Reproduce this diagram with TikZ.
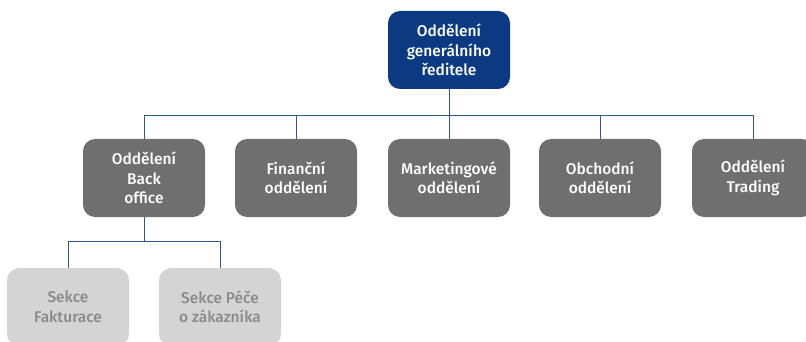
\documentclass[tikz,border=0pt]{standalone}
\usepackage{fontspec}
\setmainfont{Fira Sans Medium}
\definecolor{topblue}{HTML}{0B3A82}
\definecolor{midgray}{HTML}{6F6F6F}
\definecolor{lightgray}{HTML}{D4D4D4}
\definecolor{lighttext}{HTML}{8A8A8A}
\definecolor{linkblue}{HTML}{2F5597}
\tikzset{
  box/.style={rounded corners=12pt, minimum width=122pt, minimum height=78pt, align=center, inner sep=0pt,
    font=\fontsize{15.5}{19.5}\selectfont},
  topbox/.style={box, fill=topblue, text=white},
  midbox/.style={box, fill=midgray, text=white},
  lowbox/.style={box, fill=lightgray, text=lighttext},
  link/.style={draw=linkblue, line width=1pt}
}
\begin{document}
\begin{tikzpicture}[x=1pt,y=-1pt]
\useasboundingbox (0,0) rectangle (806,342);
\node[topbox] (top) at (449,50) {Oddělení\\generálního\\ředitele};
\node[midbox] (back) at (144,178) {Oddělení\\Back\\office};
\node[midbox] (fin) at (296,178) {Finanční\\oddělení};
\node[midbox] (mkt) at (449,178) {Marketingové\\oddělení};
\node[midbox] (obch) at (600,178) {Obchodní\\oddělení};
\node[midbox] (trad) at (753,178) {Oddělení\\Trading};
\node[lowbox] (fakt) at (68,307) {Sekce\\Fakturace};
\node[lowbox] (pece) at (220,307) {Sekce Péče\\o zákazníka};
\coordinate (hy) at (0,116);
\coordinate (ly) at (0,241);
\draw[link] (top.south) -- (top.south |- hy);
\draw[link] (back.north) -- (back.north |- hy) -- (trad.north |- hy) -- (trad.north);
\foreach \n in {fin,mkt,obch} \draw[link] (\n.north) -- (\n.north |- hy);
\draw[link] (back.south) -- (back.south |- ly);
\draw[link] (fakt.north) -- (fakt.north |- ly) -- (pece.north |- ly) -- (pece.north);
\end{tikzpicture}
\end{document}
